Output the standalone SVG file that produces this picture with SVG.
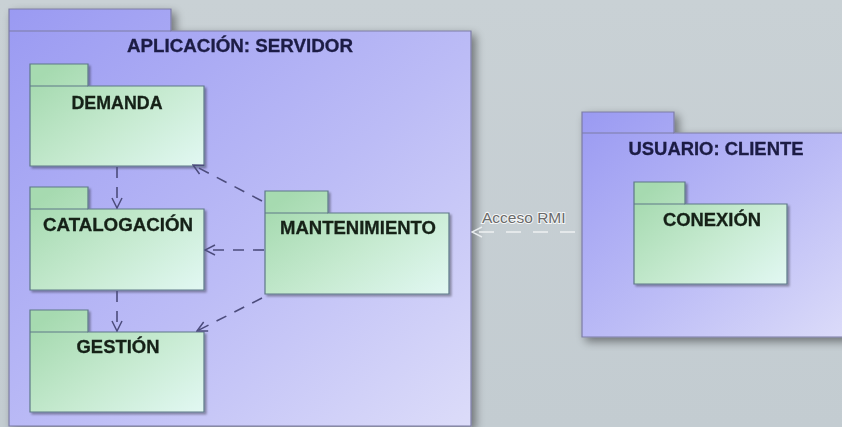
<svg xmlns="http://www.w3.org/2000/svg" width="842" height="427" viewBox="0 0 842 427">
  <defs>
    <linearGradient id="bg" x1="0" y1="0" x2="0" y2="1">
      <stop offset="0" stop-color="#c9d1d5"/>
      <stop offset="1" stop-color="#c3ccd1"/>
    </linearGradient>
    <linearGradient id="blueFill" x1="0" y1="0" x2="1" y2="1">
      <stop offset="0" stop-color="#9a9af2"/>
      <stop offset="0.55" stop-color="#bcbcf6"/>
      <stop offset="1" stop-color="#dcdcf9"/>
    </linearGradient>
    <linearGradient id="greenFill" x1="0" y1="0.2" x2="1" y2="1">
      <stop offset="0" stop-color="#a6dab0"/>
      <stop offset="0.5" stop-color="#c6ead0"/>
      <stop offset="1" stop-color="#e2f8f3"/>
    </linearGradient>
    <filter id="shadow" x="-10%" y="-10%" width="125%" height="125%">
      <feGaussianBlur in="SourceAlpha" stdDeviation="5"/>
      <feOffset dx="4" dy="4" result="b"/>
      <feComponentTransfer><feFuncA type="linear" slope="0.45"/></feComponentTransfer>
      <feMerge><feMergeNode/><feMergeNode in="SourceGraphic"/></feMerge>
    </filter>
    <filter id="smallShadow" x="-10%" y="-10%" width="125%" height="125%">
      <feGaussianBlur in="SourceAlpha" stdDeviation="1.2"/>
      <feOffset dx="1.5" dy="1.5"/>
      <feComponentTransfer><feFuncA type="linear" slope="0.35"/></feComponentTransfer>
      <feMerge><feMergeNode/><feMergeNode in="SourceGraphic"/></feMerge>
    </filter>
    <marker id="openArrow" viewBox="0 0 12 12" refX="11" refY="6" markerWidth="12" markerHeight="12" markerUnits="userSpaceOnUse" orient="auto">
      <path d="M1,1 L11,6 L1,11" fill="none" stroke="#4c4c7c" stroke-width="1.5"/>
    </marker>
    <marker id="rmiArrow" viewBox="0 0 12 12" refX="11" refY="6" markerWidth="12" markerHeight="12" markerUnits="userSpaceOnUse" orient="auto">
      <path d="M1,1 L11,6 L1,11" fill="none" stroke="#e8ecee" stroke-width="1.5"/>
    </marker>
  </defs>
  <style>
    .outer { fill: url(#blueFill); stroke: #7c7ca4; stroke-width: 1.2; }
    .inner { fill: url(#greenFill); stroke: #5e7888; stroke-width: 1.2; }
    .title { font-family: "Liberation Sans", Arial, sans-serif; font-weight: bold; font-size: 18.5px; fill: #1c1c44; stroke: #1c1c44; stroke-width: 0.3; text-anchor: middle; }
    .name { font-family: "Liberation Sans", Arial, sans-serif; font-weight: bold; font-size: 18.5px; fill: #142018; stroke: #142018; stroke-width: 0.3; text-anchor: middle; }
    .dep { fill: none; stroke: #4c4c7c; stroke-width: 1.6; stroke-dasharray: 11 9; }
    .rmi { fill: none; stroke: #eef1f2; stroke-width: 1.6; stroke-dasharray: 15 12; }
    .rmiLabel { font-family: "Liberation Sans", Arial, sans-serif; font-size: 15.5px; fill: #6a6a6a; stroke: #f4f6f7; stroke-width: 2; paint-order: stroke; }
  </style>

  <rect width="842" height="427" fill="url(#bg)"/>

  <!-- Server package -->
  <g id="servidor" filter="url(#shadow)">
    <path class="outer" d="M9,9 H171 V31 H471 V426 H9 Z"/>
    <line x1="9" y1="31" x2="171" y2="31" stroke="#7c7ca4" stroke-width="1.2"/>
    <text class="title" x="240" y="52" textLength="226" lengthAdjust="spacingAndGlyphs">APLICACIÓN: SERVIDOR</text>
  </g>

  <!-- Client package -->
  <g id="cliente" filter="url(#shadow)">
    <path class="outer" d="M582,112 H674 V133 H850 V337 H582 Z"/>
    <line x1="582" y1="133" x2="674" y2="133" stroke="#7c7ca4" stroke-width="1.2"/>
    <text class="title" x="716" y="155" textLength="175" lengthAdjust="spacingAndGlyphs">USUARIO: CLIENTE</text>
  </g>

  <g id="demanda" filter="url(#smallShadow)">
    <path class="inner" d="M30,64 H88 V86 H204 V166 H30 Z"/>
    <line x1="30" y1="86" x2="88" y2="86" stroke="#5e7888" stroke-width="1.2"/>
    <text class="name" x="117" y="109" textLength="91" lengthAdjust="spacingAndGlyphs">DEMANDA</text>
  </g>

  <g id="catalogacion" filter="url(#smallShadow)">
    <path class="inner" d="M30,187 H88 V209 H204 V290 H30 Z"/>
    <line x1="30" y1="209" x2="88" y2="209" stroke="#5e7888" stroke-width="1.2"/>
    <text class="name" x="118" y="231" textLength="150" lengthAdjust="spacingAndGlyphs">CATALOGACIÓN</text>
  </g>

  <g id="gestion" filter="url(#smallShadow)">
    <path class="inner" d="M30,310 H88 V332 H204 V412 H30 Z"/>
    <line x1="30" y1="332" x2="88" y2="332" stroke="#5e7888" stroke-width="1.2"/>
    <text class="name" x="118" y="353" textLength="83" lengthAdjust="spacingAndGlyphs">GESTIÓN</text>
  </g>

  <g id="mantenimiento" filter="url(#smallShadow)">
    <path class="inner" d="M265,191 H328 V213 H449 V294 H265 Z"/>
    <line x1="265" y1="213" x2="328" y2="213" stroke="#5e7888" stroke-width="1.2"/>
    <text class="name" x="358" y="234" textLength="156" lengthAdjust="spacingAndGlyphs">MANTENIMIENTO</text>
  </g>

  <g id="conexion" filter="url(#smallShadow)">
    <path class="inner" d="M634,182 H685 V204 H787 V284 H634 Z"/>
    <line x1="634" y1="204" x2="685" y2="204" stroke="#5e7888" stroke-width="1.2"/>
    <text class="name" x="712" y="226" textLength="98" lengthAdjust="spacingAndGlyphs">CONEXIÓN</text>
  </g>

  <!-- Dependencies -->
  <g id="connectors">
    <line class="dep" x1="117" y1="167" x2="117" y2="208" marker-end="url(#openArrow)"/>
    <line class="dep" x1="117" y1="291" x2="117" y2="331" marker-end="url(#openArrow)"/>
    <line class="dep" x1="262" y1="201" x2="193" y2="165" marker-end="url(#openArrow)"/>
    <line class="dep" x1="264" y1="250" x2="205" y2="250" marker-end="url(#openArrow)"/>
    <line class="dep" x1="262" y1="298" x2="197" y2="331" marker-end="url(#openArrow)"/>
    <line class="rmi" x1="575" y1="232" x2="472" y2="232" marker-end="url(#rmiArrow)"/>
    <text class="rmiLabel" x="482" y="223">Acceso RMI</text>
  </g>
</svg>
